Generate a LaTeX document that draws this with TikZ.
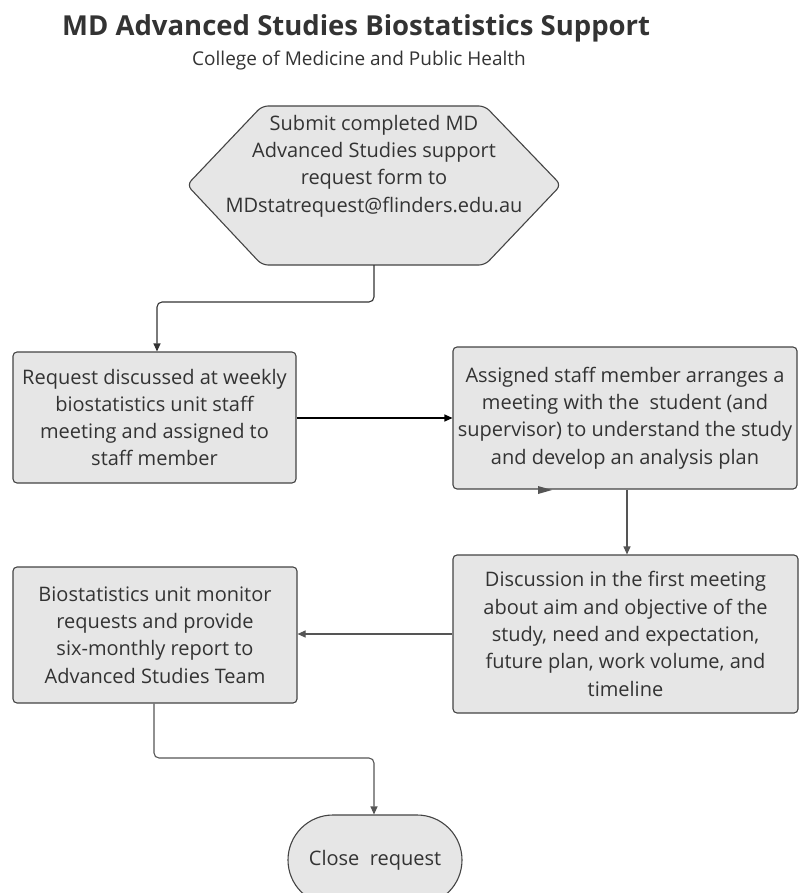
\documentclass[tikz,border=0pt]{standalone}
\usepackage{fontspec}
\setmainfont{Open Sans}
\newfontfamily\titlefont{Open Sans Bold}
\usetikzlibrary{arrows.meta}
\definecolor{boxfill}{HTML}{E6E6E6}
\definecolor{boxline}{HTML}{444444}
\definecolor{txt}{HTML}{333333}
\definecolor{conn}{HTML}{555555}
\tikzset{
  boxtext/.style={align=center, text=txt, font=\fontsize{20}{27.3}\selectfont, inner sep=0pt},
  stepbox/.style={boxtext, draw=boxline, fill=boxfill, line width=1.1pt, rounded corners=4pt},
  conline/.style={draw=conn, line width=1.1pt, rounded corners=5pt,
    -{Triangle[length=8pt,width=7pt]}},
  blackline/.style={draw=black, line width=1.1pt, -{Triangle[length=8pt,width=7pt]}},
}
\begin{document}
\begin{tikzpicture}[x=1pt,y=-1pt]
\useasboundingbox (0,0) rectangle (799,893);
% title
\node[text=txt, font=\titlefont\fontsize{27.5}{32}\selectfont, anchor=base west, inner sep=0pt] (title) at (62,36) {MD Advanced Studies Biostatistics Support};
\node[text=txt, font=\fontsize{19}{23}\selectfont, anchor=base west, inner sep=0pt] (subtitle) at (192,66) {College of Medicine and Public Health};
% hexagon
\draw[draw=boxline, fill=boxfill, line width=1.1pt, rounded corners=6pt]
  (262,106) -- (485,106) -- (561,185) -- (485,265) -- (262,265) -- (187,185) -- cycle;
\node[boxtext] (hex) at (374,166)
  {Submit completed MD\\Advanced Studies support\\request form to\\MDstatrequest@flinders.edu.au};
\coordinate (hexb) at (374,265);
% boxes
\node[stepbox, minimum width=283pt, minimum height=131pt] (b1) at (154.5,417.5)
  {Request discussed at weekly\\biostatistics unit staff\\meeting and assigned to\\staff member};
\node[stepbox, minimum width=344pt, minimum height=142pt] (b2) at (625,418)
  {Assigned staff member arranges a\\meeting with the\ \ student (and\\supervisor) to understand the study\\and develop an analysis plan};
\node[stepbox, minimum width=345pt, minimum height=158pt] (b3) at (625.5,634)
  {Discussion in the first meeting\\about aim and objective of the\\study, need and expectation,\\future plan, work volume, and\\timeline};
\node[stepbox, minimum width=284pt, minimum height=136pt] (b4) at (155,635)
  {Biostatistics unit monitor\\requests and provide\\six-monthly report to\\Advanced Studies Team};
\node[stepbox, rounded corners=45pt, minimum width=174pt, minimum height=90pt] (close) at (375,860)
  {Close\ \ request};
% connectors
\draw[conline, draw=txt] (hexb) -- (374,302) -- (157,302) -- (b1.north -| 157,0);
\draw[blackline] (b1.east |- 0,418) -- (b2.west |- 0,418);
\draw[conline] (b2.south -| 627,0) -- (b3.north -| 627,0);
\draw[conline] (b3.west |- 0,634) -- (b4.east |- 0,634);
\draw[conline] (b4.south -| 154,0) -- (154,758) -- (374,758) -- (close.north -| 374,0);
% stray arrowhead on box 2
\fill[conn] (538,486) -- (552,490) -- (538,494) -- cycle;
\end{tikzpicture}
\end{document}
